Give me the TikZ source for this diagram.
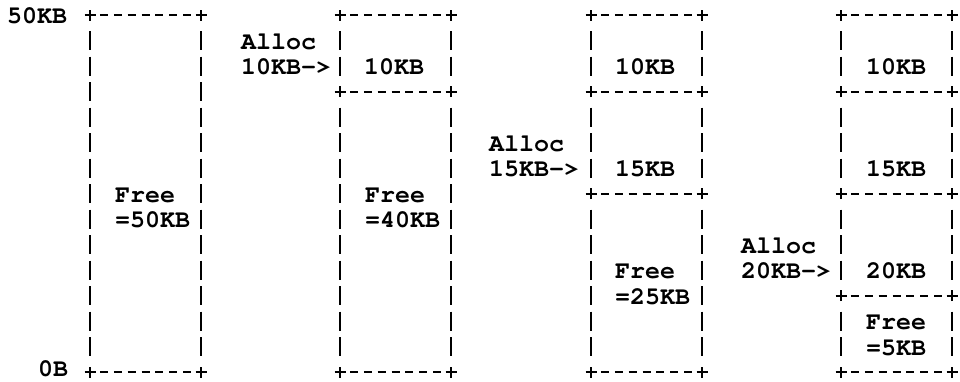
\documentclass[tikz,border=0pt]{standalone}
\usepackage[T1,TU]{fontenc}
\tikzset{
  mono/.style={font=\fontencoding{T1}\fontfamily{pcr}\fontseries{b}\fontsize{25}{25}\selectfont, inner sep=0pt, anchor=base west},
  art/.style={line width=2pt},
  hdash/.style={art, dash pattern=on 8pt off 5.875pt},
  vdash/.style={art, dash pattern=on 19pt off 6.5pt},
}
\newcommand\artP[1]{\draw[art] ([xshift=-5.5pt]#1) -- ([xshift=5.5pt]#1) ([yshift=-5.5pt]#1) -- ([yshift=5.5pt]#1);}
\newcommand\artH[2]{\draw[hdash] ([xshift=9.875pt]#1) -- ([xshift=-9.875pt]#2); \artP{#1}\artP{#2}}
\newcommand\artVV[3]{\draw[vdash] ([yshift=-16pt]#1L#2) -- ([yshift=16pt]#1L#3);
  \draw[vdash] ([yshift=-16pt]#1R#2) -- ([yshift=16pt]#1R#3);}
\newcommand\memcol[3]{\foreach \r in {#3}{%
  \coordinate (#1L\r) at (#2,{15+25.5*\r});
  \coordinate (#1R\r) at ({#2+111},{15+25.5*\r});
  \artH{#1L\r}{#1R\r}}}
\newcommand\rowy[1]{{15+25.5*#1+8.5}}
\begin{document}
\begin{tikzpicture}[x=1pt,y=-1pt]
\useasboundingbox (0,0) rectangle (960,381);
% column 1
\memcol{a}{90}{0,14}
\artVV{a}{0}{14}
% column 2
\memcol{b}{340}{0,3,14}
\artVV{b}{0}{3}\artVV{b}{3}{14}
% column 3
\memcol{c}{591}{0,3,7,14}
\artVV{c}{0}{3}\artVV{c}{3}{7}\artVV{c}{7}{14}
% column 4
\memcol{d}{841}{0,3,7,11,14}
\artVV{d}{0}{3}\artVV{d}{3}{7}\artVV{d}{7}{11}\artVV{d}{11}{14}
% labels
\node[mono] (top) at (7,\rowy{0}) {50KB};
\node[mono] (bot) at (38,376) {0B};
\node[mono] (a1) at (115,\rowy{7}) {Free};
\node[mono] (a2) at (115,\rowy{8}) {=50KB};
\node[mono] (b0) at (241,\rowy{1}) {Alloc};
\node[mono] (b1) at (241,\rowy{2}) {10KB->};
\node[mono] (b2) at (364,\rowy{2}) {10KB};
\node[mono] (b3) at (365,\rowy{7}) {Free};
\node[mono] (b4) at (365,\rowy{8}) {=40KB};
\node[mono] (c0) at (489,\rowy{5}) {Alloc};
\node[mono] (c1) at (489,\rowy{6}) {15KB->};
\node[mono] (c2) at (615,\rowy{2}) {10KB};
\node[mono] (c3) at (615,\rowy{6}) {15KB};
\node[mono] (c4) at (615,\rowy{10}) {Free};
\node[mono] (c5) at (615,\rowy{11}) {=25KB};
\node[mono] (d0) at (741,\rowy{9}) {Alloc};
\node[mono] (d1) at (741,\rowy{10}) {20KB->};
\node[mono] (d2) at (866,\rowy{2}) {10KB};
\node[mono] (d3) at (866,\rowy{6}) {15KB};
\node[mono] (d4) at (866,\rowy{10}) {20KB};
\node[mono] (d5) at (866,\rowy{12}) {Free};
\node[mono] (d6) at (866,\rowy{13}) {=5KB};
\end{tikzpicture}
\end{document}
